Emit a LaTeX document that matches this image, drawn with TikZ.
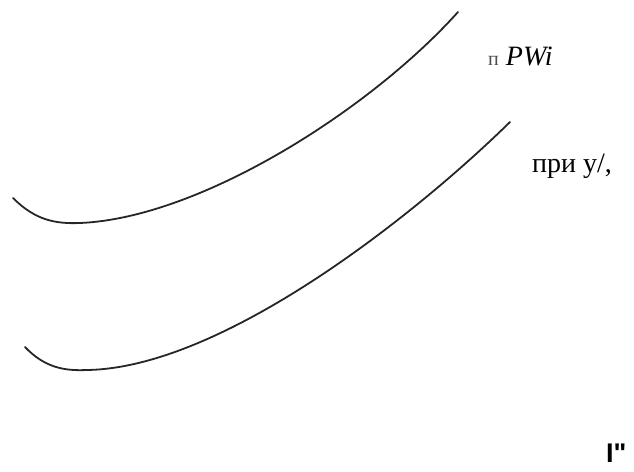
\documentclass[tikz,border=0pt]{standalone}
\usepackage{fontspec}
\setmainfont{Liberation Serif}
\newfontfamily\sansbold{Liberation Sans}
\usepackage{tikz}
\usepackage{xcolor}

\begin{document}
\begin{tikzpicture}[x=1pt,y=-1pt,line cap=round,
  curve/.style={black!85,line width=1.8pt},
  lbl/.style={anchor=base west,inner sep=0pt,font=\fontsize{28}{30}\selectfont}]
\useasboundingbox (0,0) rectangle (634,471);
\draw[curve] (13,198) .. controls (35,220) and (55,224) .. (80,223)
  .. controls (200,218) and (370,110) .. (458,12);
\draw[curve] (25,347) .. controls (45,368) and (65,371) .. (87,370)
  .. controls (220,368) and (410,220) .. (510,122);
\node[lbl] (pwi) at (488,65) {{\color{black!70}\fontsize{20}{22}\selectfont п} \textit{PWi}};
\node[lbl] (priy) at (532,172) {при у/,};
\node[lbl,font=\sansbold\bfseries\fontsize{27}{29}\selectfont] (ibar) at (606,462) {I"};
\end{tikzpicture}
\end{document}
